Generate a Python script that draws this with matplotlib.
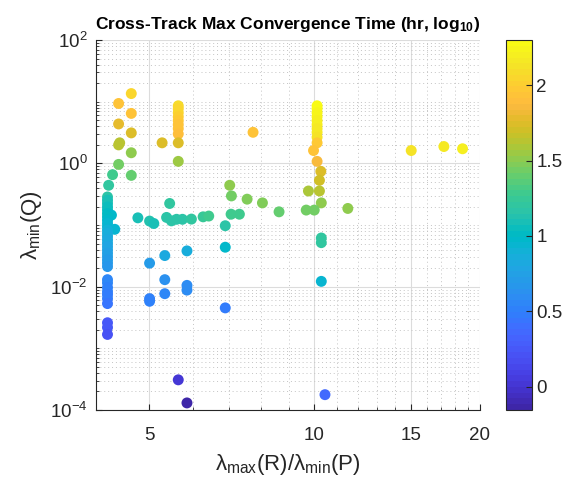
import numpy as np
import matplotlib
matplotlib.use("Agg")
import matplotlib.pyplot as plt
from matplotlib.colors import ListedColormap
from matplotlib.ticker import FixedLocator, FixedFormatter, NullFormatter, LogLocator

plt.rcParams['font.family'] = ['Liberation Sans', 'DejaVu Sans']
plt.rcParams['mathtext.fontset'] = 'custom'
plt.rcParams['mathtext.rm'] = 'Liberation Sans'
plt.rcParams['mathtext.it'] = 'Liberation Sans:italic'
plt.rcParams['mathtext.bf'] = 'Liberation Sans:bold'

# parula (64 entries)
parula_rgb = [
    [0.2422, 0.1504, 0.6603], [0.2504, 0.1650, 0.7076], [0.2578, 0.1818, 0.7511], [0.2647, 0.1978, 0.7952],
    [0.2706, 0.2147, 0.8364], [0.2751, 0.2342, 0.8710], [0.2783, 0.2559, 0.8991], [0.2803, 0.2782, 0.9221],
    [0.2813, 0.3006, 0.9414], [0.2810, 0.3228, 0.9579], [0.2795, 0.3447, 0.9717], [0.2760, 0.3667, 0.9829],
    [0.2699, 0.3892, 0.9906], [0.2602, 0.4123, 0.9952], [0.2440, 0.4358, 0.9988], [0.2206, 0.4603, 0.9973],
    [0.1963, 0.4847, 0.9892], [0.1834, 0.5074, 0.9798], [0.1786, 0.5289, 0.9682], [0.1764, 0.5499, 0.9520],
    [0.1687, 0.5703, 0.9359], [0.1540, 0.5902, 0.9218], [0.1460, 0.6091, 0.9079], [0.1380, 0.6276, 0.8973],
    [0.1248, 0.6459, 0.8883], [0.1113, 0.6635, 0.8763], [0.0952, 0.6798, 0.8598], [0.0689, 0.6948, 0.8394],
    [0.0297, 0.7082, 0.8163], [0.0036, 0.7203, 0.7917], [0.0067, 0.7312, 0.7660], [0.0433, 0.7411, 0.7394],
    [0.0964, 0.7500, 0.7120], [0.1408, 0.7584, 0.6842], [0.1717, 0.7670, 0.6554], [0.1938, 0.7758, 0.6251],
    [0.2161, 0.7843, 0.5923], [0.2470, 0.7918, 0.5567], [0.2906, 0.7973, 0.5188], [0.3406, 0.8008, 0.4789],
    [0.3909, 0.8029, 0.4354], [0.4456, 0.8024, 0.3909], [0.5044, 0.7993, 0.3480], [0.5616, 0.7942, 0.3045],
    [0.6174, 0.7876, 0.2612], [0.6720, 0.7793, 0.2227], [0.7242, 0.7698, 0.1910], [0.7738, 0.7598, 0.1646],
    [0.8203, 0.7498, 0.1535], [0.8634, 0.7406, 0.1596], [0.9035, 0.7330, 0.1774], [0.9393, 0.7288, 0.2100],
    [0.9728, 0.7298, 0.2394], [0.9956, 0.7434, 0.2371], [0.9970, 0.7659, 0.2199], [0.9952, 0.7893, 0.2028],
    [0.9892, 0.8136, 0.1885], [0.9786, 0.8386, 0.1766], [0.9676, 0.8639, 0.1643], [0.9610, 0.8890, 0.1537],
    [0.9597, 0.9135, 0.1423], [0.9628, 0.9373, 0.1265], [0.9691, 0.9606, 0.1064], [0.9769, 0.9839, 0.0805],
]
parula = ListedColormap(parula_rgb, name="parula")

# lambda_max(R)/lambda_min(P)
lam_ratio = [
    # upper-left group
    4.64, 4.40, 4.64, 4.40, 4.64, 4.42, 4.40, 4.64, 4.40, 4.29, 4.64, 4.22,
    # left column
    4.20, 4.20, 4.20, 4.20, 4.20, 4.20, 4.27, 4.20, 4.20, 4.20, 4.33, 4.20, 4.20, 4.20,
    4.20, 4.20, 4.20, 4.20, 4.20, 4.20, 4.20, 4.20,
    4.20, 4.20, 4.20, 4.20, 4.20, 4.20, 4.20,
    4.20, 4.20, 4.20, 4.20, 4.20,
    # column near 5.65
    5.65, 5.65, 5.65, 5.65, 5.65, 5.65, 5.65, 5.65, 5.65, 5.28, 5.65, 7.73,
    # column near 10
    10.11, 10.11, 10.11, 10.11, 10.11, 10.11, 10.11, 10.11, 10.11,
    10.11, 9.96, 10.11, 10.27, 10.21, 9.75, 10.21, 10.29, 9.66, 9.99, 11.5,
    # far right
    15.0, 17.2, 18.6,
    # green row
    7.01, 7.06, 7.54, 8.04, 8.62,
    # teal row
    4.77, 5.01, 5.10, 5.38, 5.49, 5.61, 5.75, 5.45, 5.97, 6.27, 6.42, 7.05, 7.30, 6.88,
    # lower scattered
    6.88, 10.29, 10.29, 10.29, 6.88,
    5.34, 5.86, 5.01, 5.34, 5.86, 5.86, 5.34, 5.01, 5.01,
    5.65, 5.86, 10.45,
]

# lambda_min(Q)
lam_min_q = [
    13.6, 9.39, 6.48, 4.37, 3.13, 2.16, 2.0, 1.49, 0.964, 0.657, 0.64, 0.442,
    0.286, 0.253, 0.224, 0.197, 0.175, 0.154, 0.145, 0.136, 0.12, 0.106, 0.0853, 0.0939, 0.083, 0.0735,
    0.065, 0.0574, 0.0507, 0.0447, 0.0395, 0.0349, 0.0309, 0.0272,
    0.0241, 0.0212, 0.013, 0.0115, 0.0097, 0.0083, 0.00743,
    0.0064, 0.00532, 0.0026, 0.00218, 0.00168,
    8.62, 7.71, 6.65, 5.73, 4.94, 4.26, 3.67, 3.01, 2.16, 2.16, 1.08, 3.20,
    8.62, 7.71, 6.65, 5.73, 4.94, 4.26, 3.67, 3.20, 2.66,
    2.16, 1.62, 1.08, 0.743, 0.532, 0.357, 0.357, 0.229, 0.175, 0.175, 0.186,
    1.62, 1.88, 1.73,
    0.442, 0.297, 0.263, 0.229, 0.164,
    0.131, 0.116, 0.106, 0.133, 0.117, 0.124, 0.124, 0.224, 0.125, 0.136, 0.140, 0.150, 0.150, 0.0975,
    0.0437, 0.0617, 0.0518, 0.0122, 0.00453,
    0.032, 0.0381, 0.0241, 0.013, 0.0105, 0.0088, 0.0077, 0.0064, 0.0058,
    3.08e-4, 1.30e-4, 1.77e-4,
]

# max convergence time, log10(hr)
log_conv_hr = [
    2.05, 1.92, 1.93, 1.78, 1.75, 1.62, 1.62, 1.52, 1.42, 1.30, 1.38, 1.22,
    1.15, 1.10, 1.08, 1.06, 1.04, 1.02, 0.98, 1.00, 0.97, 0.95, 0.92, 0.92, 0.90, 0.88,
    0.86, 0.84, 0.82, 0.80, 0.78, 0.76, 0.74, 0.72,
    0.70, 0.68, 0.55, 0.54, 0.52, 0.50, 0.48,
    0.46, 0.45, 0.25, 0.23, 0.20,
    2.08, 2.06, 2.04, 2.00, 1.97, 1.95, 1.92, 1.90, 1.74, 1.73, 1.55, 1.92,
    2.30, 2.28, 2.26, 2.24, 2.22, 2.20, 2.18, 2.15, 2.12,
    1.98, 1.93, 1.87, 1.76, 1.72, 1.60, 1.62, 1.52, 1.42, 1.42, 1.50,
    2.12, 2.18, 2.22,
    1.50, 1.45, 1.48, 1.47, 1.38,
    1.10, 1.12, 1.10, 1.18, 1.16, 1.18, 1.18, 1.22, 1.22, 1.25, 1.27, 1.27, 1.27, 1.18,
    0.98, 1.20, 1.20, 0.92, 0.48,
    0.82, 0.85, 0.70, 0.62, 0.58, 0.58, 0.55, 0.52, 0.50,
    0.02, -0.155, 0.35,
]

fig = plt.figure(figsize=(5.74, 4.84), dpi=100)
ax = fig.add_axes([0.167, 0.153, 0.669, 0.764])
cax = fig.add_axes([0.882, 0.153, 0.044, 0.764])

sc = ax.scatter(lam_ratio, lam_min_q, c=log_conv_hr, cmap=parula,
                vmin=min(log_conv_hr), vmax=max(log_conv_hr),
                s=62, edgecolors='none', zorder=3)

ax.set_xscale('log')
ax.set_yscale('log')
ax.set_xlim(4, 20)
ax.set_ylim(1e-4, 1e2)

ax.xaxis.set_major_locator(FixedLocator([5, 10, 15, 20]))
ax.xaxis.set_major_formatter(FixedFormatter(['5', '10', '15', '20']))
ax.xaxis.set_minor_locator(FixedLocator([4, 6, 7, 8, 9, 11, 12, 13, 14, 16, 17, 18, 19]))
ax.xaxis.set_minor_formatter(NullFormatter())

ax.yaxis.set_major_locator(FixedLocator([1e-4, 1e-2, 1e0, 1e2]))
ax.yaxis.set_major_formatter(FixedFormatter([r'10$^{-4}$', r'10$^{-2}$', r'10$^{0}$', r'10$^{2}$']))
ax.yaxis.set_minor_locator(LogLocator(base=10, subs=np.arange(1, 10), numticks=20))
ax.yaxis.set_minor_formatter(NullFormatter())

ax.grid(True, which='major', color='#dcdcdc', linewidth=0.8, linestyle='-', zorder=0)
ax.grid(True, which='minor', color='#c4c4c4', linewidth=0.7, linestyle=(0, (1, 3)), zorder=0)
ax.set_axisbelow(True)

for side in ['top', 'right']:
    ax.spines[side].set_visible(False)
for side in ['left', 'bottom']:
    ax.spines[side].set_color('#262626')
    ax.spines[side].set_linewidth(0.8)

ax.tick_params(which='both', direction='in', colors='#262626', labelsize=13.5)
ax.tick_params(which='major', length=4)
ax.tick_params(which='minor', length=2)
ax.tick_params(axis='x', pad=12)
ax.tick_params(axis='y', pad=6)

ax.set_xlabel('λ$_{\\mathrm{max}}$(R)/λ$_{\\mathrm{min}}$(P)', fontsize=16, color='#262626', labelpad=6)
ax.set_ylabel('λ$_{\\mathrm{min}}$(Q)', fontsize=16, color='#262626')
ax.set_title('Cross-Track Max Convergence Time (hr, log$_{\\mathbf{10}}$)',
             fontsize=12.5, fontweight='bold', pad=8)

cb = fig.colorbar(sc, cax=cax)
cb.set_ticks([0, 0.5, 1, 1.5, 2])
cb.set_ticklabels(['0', '0.5', '1', '1.5', '2'])
cb.ax.tick_params(direction='in', length=4, labelsize=13.5, colors='#262626')
cb.outline.set_edgecolor('#262626')
cb.outline.set_linewidth(0.8)

fig.savefig('out.png', dpi=100)
